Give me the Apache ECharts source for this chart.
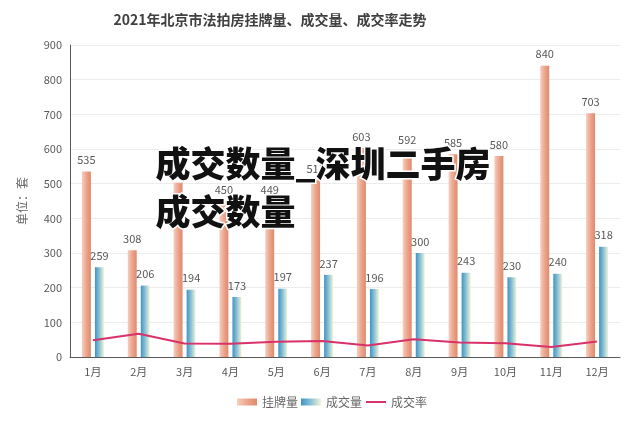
<!DOCTYPE html>
<html><head><meta charset="utf-8">
<script src="https://cdn.jsdelivr.net/npm/echarts@6/dist/echarts.min.js"></script>
<style>html,body{margin:0;padding:0;background:#fff}#c{width:640px;height:426px}</style>
</head><body><div id="c"></div>
<script>
var months = ['1月','2月','3月','4月','5月','6月','7月','8月','9月','10月','11月','12月'];
var listed = [535, 308, 503, 450, 449, 511, 603, 592, 585, 580, 840, 703];
var sold = [259, 206, 194, 173, 197, 237, 196, 300, 243, 230, 240, 318];
var rate = [48, 67, 39, 38, 44, 46, 33, 51, 42, 40, 29, 45];
var yTicks = [0, 100, 200, 300, 400, 500, 600, 700, 800, 900];

var chart = echarts.init(document.getElementById('c'), null, {renderer: 'canvas'});
var font = '"Noto Sans CJK SC", "Noto Sans", sans-serif';
var salmon = new echarts.graphic.LinearGradient(0, 0, 1, 0, [
  {offset: 0, color: '#f6cfc0'}, {offset: 0.5, color: '#eca58c'}, {offset: 1, color: '#de8a6e'}]);
var blue = new echarts.graphic.LinearGradient(0, 0, 1, 0, [
  {offset: 0, color: '#3f93c6'}, {offset: 0.5, color: '#8cc3d6'}, {offset: 1, color: '#f3f3d6'}]);
chart.setOption({
  animation: false,
  textStyle: {fontFamily: font},
  title: {
    text: '2021年北京市法拍房挂牌量、成交量、成交率走势',
    left: 265, top: 8, textAlign: 'center',
    textStyle: {fontSize: 14, fontWeight: 'bold', color: '#404040', fontFamily: font}
  },
  legend: {
    top: 391, left: 232, itemGap: 3, itemWidth: 20, itemHeight: 7,
    textStyle: {fontSize: 12, color: '#666'},
    data: [{name: '挂牌量', icon: 'rect'}, {name: '成交量', icon: 'rect'},
           {name: '成交率', itemStyle: {opacity: 0}}]
  },
  grid: {left: 70, right: 20, top: 45, bottom: 69},
  xAxis: {
    type: 'category', data: months,
    axisLine: {show: true, lineStyle: {color: '#595959', width: 1}},
    axisTick: {show: false},
    axisLabel: {color: '#595959', fontSize: 11, margin: 9}
  },
  yAxis: {
    type: 'value', min: yTicks[0], max: yTicks[yTicks.length - 1], interval: 100,
    name: '单位：套', nameLocation: 'middle', nameGap: 42, nameRotate: 90,
    nameTextStyle: {color: '#666', fontSize: 12},
    axisLine: {show: true, lineStyle: {color: '#595959'}},
    axisTick: {show: false},
    axisLabel: {color: '#595959', fontSize: 11, margin: 8},
    splitLine: {lineStyle: {color: '#ececec'}}
  },
  series: [
    {name: '挂牌量', type: 'bar', data: listed, barWidth: 9, barGap: '45%',
     itemStyle: {color: salmon},
     label: {show: true, position: 'top', color: '#595959', fontSize: 11, distance: 6}},
    {name: '成交量', type: 'bar', data: sold, barWidth: 9,
     itemStyle: {color: blue},
     label: {show: true, position: 'top', color: '#595959', fontSize: 11, distance: 6}},
    {name: '成交率', type: 'line', data: rate, symbol: 'none', z: 5,
     lineStyle: {color: '#d9316a', width: 2}, itemStyle: {color: '#d9316a'}}
  ],
  graphic: [
    {type: 'text', left: 154, top: 140, z: 100,
     style: {text: '成交数量_深圳二手房\n成交数量', fontSize: 35, fontWeight: 900,
       fontFamily: '"Noto Sans CJK SC", sans-serif', fill: '#111', lineHeight: 48,
       stroke: '#fff', lineWidth: 3}}
  ]
});
</script></body></html>
